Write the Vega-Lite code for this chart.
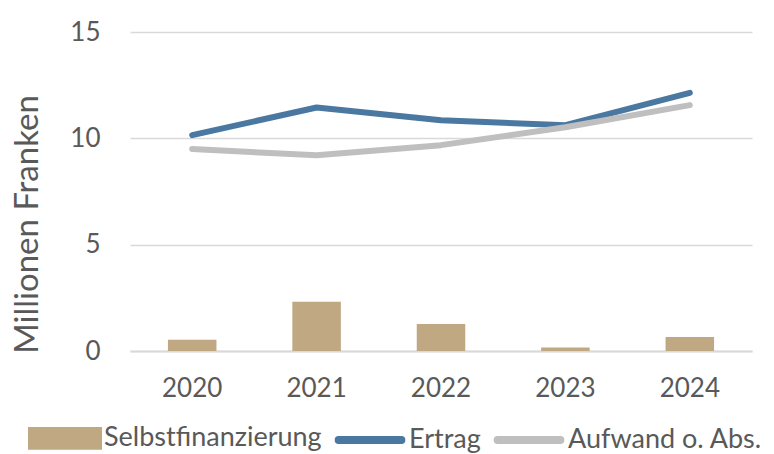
{
  "$schema": "https://vega.github.io/schema/vega-lite/v6.json",
  "width": 622,
  "height": 319,
  "autosize": {"type": "none"},
  "padding": {"left": 130, "top": 32, "right": 22, "bottom": 103},
  "background": "white",
  "config": {
    "font": "Lato",
    "view": {"stroke": null},
    "axis": {"labelFont": "Lato", "titleFont": "Lato", "labelColor": "#595959", "titleColor": "#595959"}
  },
  "data": {
    "values": [
      {"year": "2020", "series": "Selbstfinanzierung", "value": 0.53},
      {"year": "2021", "series": "Selbstfinanzierung", "value": 2.31},
      {"year": "2022", "series": "Selbstfinanzierung", "value": 1.27},
      {"year": "2023", "series": "Selbstfinanzierung", "value": 0.16},
      {"year": "2024", "series": "Selbstfinanzierung", "value": 0.66},
      {"year": "2020", "series": "Ertrag", "value": 10.15},
      {"year": "2021", "series": "Ertrag", "value": 11.45},
      {"year": "2022", "series": "Ertrag", "value": 10.85},
      {"year": "2023", "series": "Ertrag", "value": 10.62},
      {"year": "2024", "series": "Ertrag", "value": 12.14},
      {"year": "2020", "series": "Aufwand o. Abs.", "value": 9.5},
      {"year": "2021", "series": "Aufwand o. Abs.", "value": 9.2},
      {"year": "2022", "series": "Aufwand o. Abs.", "value": 9.68},
      {"year": "2023", "series": "Aufwand o. Abs.", "value": 10.52},
      {"year": "2024", "series": "Aufwand o. Abs.", "value": 11.56}
    ]
  },
  "encoding": {
    "x": {
      "field": "year", "type": "ordinal",
      "scale": {"paddingInner": 0, "paddingOuter": 0},
      "axis": {"title": null, "labelAngle": 0, "labelFontSize": 26, "labelPadding": 24, "ticks": false, "domainColor": "#D9D9D9", "domainWidth": 2, "grid": false}
    },
    "y": {
      "field": "value", "type": "quantitative",
      "scale": {"domain": [0, 15]},
      "axis": {"title": "Millionen Franken", "values": [0, 5, 10, 15], "labelFontSize": 26, "labelPadding": 30, "ticks": false, "domain": false, "gridColor": "#D9D9D9", "gridWidth": 1.5, "titleFontSize": 33, "titleFontWeight": "normal", "titleX": -103, "titleY": 192, "titleBaseline": "middle"}
    },
    "color": {
      "field": "series", "type": "nominal",
      "scale": {"domain": ["Selbstfinanzierung", "Ertrag", "Aufwand o. Abs."], "range": ["#BFA882", "#4A78A0", "#BFBFBF"]},
      "sort": null,
      "legend": {
        "title": null, "orient": "none", "direction": "horizontal",
        "legendX": -102, "legendY": 390,
        "labelFontSize": 27, "labelColor": "#595959", "labelFont": "Lato", "labelLimit": 400,
        "symbolSize": 4356, "columnPadding": 0, "labelOffset": 2,
        "encode": {
          "symbols": {
            "update": {
              "y": {"signal": "datum.value === 'Selbstfinanzierung' ? 16 : 12"},
              "shape": {"signal": "datum.value === 'Selbstfinanzierung' ? 'M-1,-0.22H1V0.22H-1Z' : 'M-0.95,0H0.95'"},
              "fill": {"signal": "datum.value === 'Selbstfinanzierung' ? '#BFA882' : 'transparent'"},
              "stroke": {"signal": "datum.value === 'Selbstfinanzierung' ? 'transparent' : (datum.value === 'Ertrag' ? '#4A78A0' : '#BFBFBF')"},
              "strokeWidth": {"value": 8},
              "strokeCap": {"value": "round"},
              "opacity": {"value": 1}
            }
          },
          "labels": {
            "update": {"y": {"signal": "datum.value === 'Selbstfinanzierung' ? 16 : 12"}}
          }
        }
      }
    }
  },
  "layer": [
    {
      "transform": [{"filter": "datum.series === 'Selbstfinanzierung'"}],
      "mark": {"type": "bar", "width": {"band": 0.39}, "opacity": 1}
    },
    {
      "transform": [{"filter": "datum.series !== 'Selbstfinanzierung'"}],
      "mark": {"type": "line", "strokeWidth": 6, "strokeCap": "round", "strokeJoin": "round"}
    }
  ]
}
